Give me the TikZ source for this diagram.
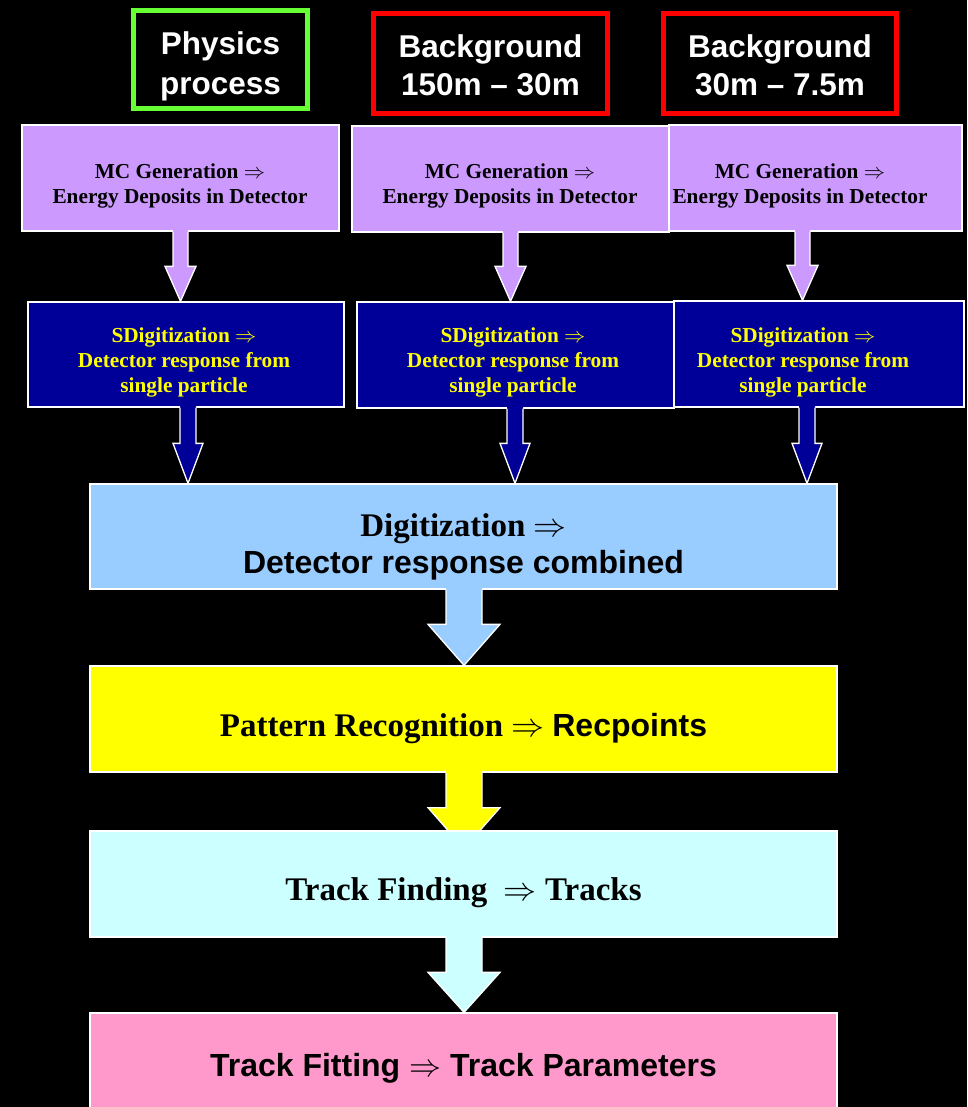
\RequirePackage{fix-cm}
\documentclass[tikz,border=0pt]{standalone}
\usepackage{fontspec}
\setmainfont{Liberation Serif}
\setsansfont{Liberation Sans}
\usetikzlibrary{calc}
\definecolor{hgreen}{HTML}{66FF33}
\definecolor{hred}{HTML}{FF0000}
\definecolor{cpurple}{HTML}{CC99FF}
\definecolor{cnavy}{HTML}{000099}
\definecolor{clblue}{HTML}{99CCFF}
\definecolor{cyellow}{HTML}{FFFF00}
\definecolor{ccyan}{HTML}{CCFFFF}
\definecolor{cpink}{HTML}{FF99CC}
% #1 colour, #2 x (pt), #3 start coord, #4 end coord, #5 half shaft, #6 half head, #7 head length
\newcommand\blockarrow[7]{%
  \fill[#1] let \p1=(#3), \p2=(#4) in
    (#2pt-#5pt,\y1+1.5pt) -- (#2pt-#5pt,\y2+#7pt) -- (#2pt-#6pt,\y2+#7pt) -- (#2pt,\y2)
    -- (#2pt+#6pt,\y2+#7pt) -- (#2pt+#5pt,\y2+#7pt) -- (#2pt+#5pt,\y1+1.5pt) -- cycle;
  \draw[white,line width=1.3pt,line join=miter] let \p1=(#3), \p2=(#4) in
    (#2pt-#5pt,\y1) -- (#2pt-#5pt,\y2+#7pt) -- (#2pt-#6pt,\y2+#7pt) -- (#2pt,\y2)
    -- (#2pt+#6pt,\y2+#7pt) -- (#2pt+#5pt,\y2+#7pt) -- (#2pt+#5pt,\y1);
}
\tikzset{
  hdr/.style={fill=black, line width=5pt},
  hdrtext/.style={text=white, inner sep=0pt, align=center,
    font=\sffamily\bfseries\fontsize{31.5}{38}\selectfont},
  smallbox/.style={draw=white, line width=1.3pt, inner sep=0pt, minimum height=106pt},
  mcbox/.style={smallbox, fill=cpurple},
  sdbox/.style={smallbox, fill=cnavy},
  smalltext/.style={inner sep=0pt, align=center, font=\rmfamily\bfseries\fontsize{21.3}{25}\selectfont},
  bigbox/.style={draw=white, line width=1.3pt, inner sep=0pt,
    minimum width=747pt, minimum height=106pt},
  bigtext/.style={inner sep=0pt, align=center, text=black, font=\bfseries\fontsize{32}{37}\selectfont},
}
\newcommand\serifbig{\rmfamily\fontsize{33}{37}\selectfont}
\begin{document}
\begin{tikzpicture}[x=1pt,y=-1pt]
\useasboundingbox (0,0) rectangle (967,1107);
\fill[black] (0,0) rectangle (967,1107);

% headers
\node[hdr, draw=hgreen, minimum width=174pt, minimum height=98pt] (phys) at (220.5,59.5) {};
\node[hdrtext, font=\sffamily\bfseries\fontsize{31.5}{40}\selectfont] (physt) at (220.5,66.5) {Physics\\process};
\node[hdr, draw=hred, minimum width=234pt, minimum height=100pt] (bg1) at (490.5,63.5) {};
\node[hdrtext] (bg1t) at (490.5,65.5) {Background\\150m -- 30m};
\node[hdr, draw=hred, minimum width=233pt, minimum height=100pt] (bg2) at (780,63.5) {};
\node[hdrtext] (bg2t) at (780,65.5) {Background\\30m -- 7.5m};

% MC generation boxes
\node[mcbox, minimum width=317pt] (mc1) at (180.5,178) {};
\node[smalltext] (mc1t) at (180,186) {MC Generation $\Rightarrow$\\Energy Deposits in Detector};
\node[mcbox, minimum width=317pt] (mc2) at (510.5,179) {};
\node[smalltext] (mc2t) at (510,186) {MC Generation $\Rightarrow$\\Energy Deposits in Detector};
\node[mcbox, minimum width=293pt] (mc3) at (815.5,178) {};
\node[smalltext] (mc3t) at (800,186) {MC Generation $\Rightarrow$\\Energy Deposits in Detector};

% SDigitization boxes
\node[sdbox, minimum width=316pt, minimum height=105pt] (sd1) at (186,354.5) {};
\node[smalltext, text=cyellow] (sd1t) at (184,362) {SDigitization $\Rightarrow$\\Detector response from\\single particle};
\node[sdbox, minimum width=317pt] (sd2) at (515.5,355) {};
\node[smalltext, text=cyellow] (sd2t) at (513,362) {SDigitization $\Rightarrow$\\Detector response from\\single particle};
\node[sdbox, minimum width=290pt] (sd3) at (819,354) {};
\node[smalltext, text=cyellow] (sd3t) at (803,362) {SDigitization $\Rightarrow$\\Detector response from\\single particle};

% Digitization
\node[bigbox, fill=clblue, minimum height=105pt] (dig) at (463.5,536.5) {};
\node[bigtext] (digt) at (463.5,546.5) {{\serifbig Digitization $\Rightarrow$}\\{\sffamily Detector response combined}};

% arrows MC -> SD
\blockarrow{cpurple}{180.5}{mc1.south}{sd1.north}{7.5}{15.5}{35}
\blockarrow{cpurple}{510.5}{mc2.south}{sd2.north}{7.5}{15.5}{35}
\blockarrow{cpurple}{802.5}{mc3.south}{sd3.north}{7.5}{15.5}{35}
% arrows SD -> Dig
\blockarrow{cnavy}{188}{sd1.south}{dig.north}{8}{15}{40}
\blockarrow{cnavy}{515}{sd2.south}{dig.north}{8}{15}{40}
\blockarrow{cnavy}{807}{sd3.south}{dig.north}{8}{15}{40}

% Pattern recognition
\node[bigbox, fill=cyellow] (pat) at (463.5,719) {};
\node[bigtext] (patt) at (463.5,729) {{\serifbig Pattern Recognition $\Rightarrow$} {\sffamily Recpoints}};
\blockarrow{clblue}{464}{dig.south}{pat.north}{18}{36}{41}

% yellow arrow runs under the next box
\coordinate (ytip) at ($(pat.south)+(0,76)$);
\blockarrow{cyellow}{464}{pat.south}{ytip}{18}{36}{41}

% Track finding
\node[bigbox, fill=ccyan] (trk) at (463.5,884) {};
\node[bigtext] (trkt) at (463.5,893) {\serifbig Track Finding\ \ $\Rightarrow$ Tracks};

% Track fitting
\node[bigbox, fill=cpink, minimum height=107pt] (fit) at (463.5,1066.5) {};
\node[bigtext] (fitt) at (463.5,1068.5) {\sffamily Track Fitting $\Rightarrow$ Track Parameters};
\blockarrow{ccyan}{464}{trk.south}{fit.north}{18}{36}{40}
\end{tikzpicture}
\end{document}
